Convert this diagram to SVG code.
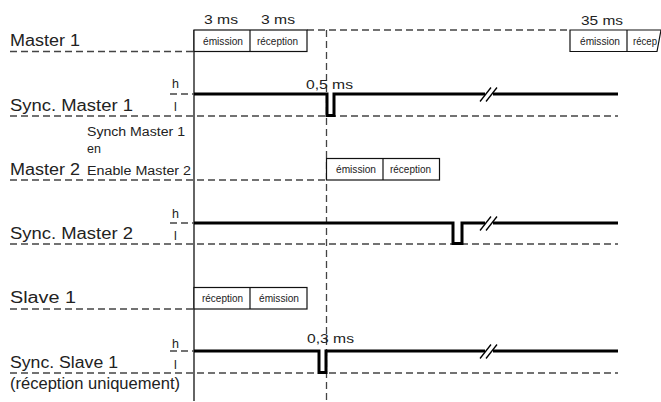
<svg xmlns="http://www.w3.org/2000/svg" width="661" height="402" viewBox="0 0 661 402">
<style>
text{font-family:"Liberation Sans",Arial,sans-serif;fill:#222}
.lbl{font-size:16px}
.sm{font-size:12.5px}
.ms{font-size:13px}
.bx{font-size:11px}
.hl{font-size:12.5px}
.dash{stroke:#444;stroke-width:1.3;stroke-dasharray:7 4;fill:none}
.box{fill:#fff;stroke:#111;stroke-width:1.2}
.sig{stroke:#000;stroke-width:3;fill:none;stroke-linejoin:miter}
.brk{stroke:#000;stroke-width:1.3}
</style>
<g id="guides">
<line x1="194" y1="30" x2="194" y2="401" stroke="#111" stroke-width="1.3"/>
<line class="dash" x1="326.5" y1="30" x2="326.5" y2="401"/>
<line class="dash" x1="307" y1="30" x2="570" y2="30"/>
</g>
<g id="master1">
<text class="lbl" x="10" y="46" textLength="70" lengthAdjust="spacingAndGlyphs">Master 1</text>
<line class="dash" x1="10" y1="51.5" x2="194" y2="51.5"/>
<text class="ms" x="204" y="24" textLength="34" lengthAdjust="spacingAndGlyphs">3 ms</text>
<text class="ms" x="261" y="24" textLength="34" lengthAdjust="spacingAndGlyphs">3 ms</text>
<rect class="box" x="194" y="30" width="113" height="21.5"/>
<line x1="250" y1="30" x2="250" y2="51.5" stroke="#111" stroke-width="1.2"/>
<text class="bx" x="203" y="44.5" textLength="40" lengthAdjust="spacingAndGlyphs">émission</text>
<text class="bx" x="257" y="44.5" textLength="41" lengthAdjust="spacingAndGlyphs">réception</text>
<text class="ms" x="581" y="25" textLength="42" lengthAdjust="spacingAndGlyphs">35 ms</text>
<path class="box" d="M570,30 H661 L657,51.5 H570 Z"/>
<line x1="627" y1="30" x2="627" y2="51.5" stroke="#111" stroke-width="1.2"/>
<text class="bx" x="580" y="44.5" textLength="40" lengthAdjust="spacingAndGlyphs">émission</text>
<text class="bx" x="633" y="44.5" textLength="24" lengthAdjust="spacingAndGlyphs">récep</text>
</g>
<g id="sync-master1">
<text class="lbl" x="10" y="111" textLength="123" lengthAdjust="spacingAndGlyphs">Sync. Master 1</text>
<text class="hl" x="172" y="88">h</text>
<text class="hl" x="174" y="111">l</text>
<line class="dash" x1="170" y1="94" x2="194" y2="94" stroke-dasharray="5 4"/>
<line class="dash" x1="10" y1="116" x2="618" y2="116"/>
<text class="ms" x="306" y="89" textLength="47" lengthAdjust="spacingAndGlyphs">0,5 ms</text>
<path class="sig" d="M194,94 H327 V115.5 H334 V94 H485"/>
<line class="sig" x1="493" y1="94" x2="618" y2="94"/>
<line class="brk" x1="480" y1="101.5" x2="491" y2="87.5"/>
<line class="brk" x1="486" y1="101.5" x2="497" y2="87.5"/>
</g>
<g id="master2">
<text class="sm" x="87" y="136" textLength="98" lengthAdjust="spacingAndGlyphs">Synch Master 1</text>
<text class="sm" x="87" y="153">en</text>
<text class="sm" x="87" y="175" textLength="104" lengthAdjust="spacingAndGlyphs">Enable Master 2</text>
<text class="lbl" x="10" y="175" textLength="70" lengthAdjust="spacingAndGlyphs">Master 2</text>
<line class="dash" x1="10" y1="180" x2="326" y2="180"/>
<rect class="box" x="326.5" y="158.5" width="113" height="21.5"/>
<line x1="383" y1="158.5" x2="383" y2="180" stroke="#111" stroke-width="1.2"/>
<text class="bx" x="336" y="173" textLength="40" lengthAdjust="spacingAndGlyphs">émission</text>
<text class="bx" x="390" y="173" textLength="41" lengthAdjust="spacingAndGlyphs">réception</text>
</g>
<g id="sync-master2">
<text class="lbl" x="10" y="239" textLength="123" lengthAdjust="spacingAndGlyphs">Sync. Master 2</text>
<text class="hl" x="172" y="218">h</text>
<text class="hl" x="174" y="240">l</text>
<line class="dash" x1="170" y1="223" x2="194" y2="223" stroke-dasharray="5 4"/>
<line class="dash" x1="10" y1="244" x2="618" y2="244"/>
<path class="sig" d="M194,223 H453 V243.5 H462 V223 H485"/>
<line class="sig" x1="493" y1="223" x2="618" y2="223"/>
<line class="brk" x1="480" y1="230.5" x2="491" y2="216.5"/>
<line class="brk" x1="486" y1="230.5" x2="497" y2="216.5"/>
</g>
<g id="slave1">
<text class="lbl" x="10" y="303" textLength="66" lengthAdjust="spacingAndGlyphs">Slave 1</text>
<line class="dash" x1="10" y1="309" x2="194" y2="309"/>
<rect class="box" x="194" y="287.5" width="113" height="21.5"/>
<line x1="250" y1="287.5" x2="250" y2="309" stroke="#111" stroke-width="1.2"/>
<text class="bx" x="202" y="302" textLength="41" lengthAdjust="spacingAndGlyphs">réception</text>
<text class="bx" x="259" y="302" textLength="40" lengthAdjust="spacingAndGlyphs">émission</text>
</g>
<g id="sync-slave1">
<text class="lbl" x="10" y="368" textLength="108" lengthAdjust="spacingAndGlyphs">Sync. Slave 1</text>
<text class="lbl" x="10" y="389" textLength="170" lengthAdjust="spacingAndGlyphs">(réception uniquement)</text>
<text class="hl" x="172" y="348">h</text>
<text class="hl" x="174" y="369">l</text>
<line class="dash" x1="170" y1="351" x2="194" y2="351" stroke-dasharray="5 4"/>
<line class="dash" x1="10" y1="373" x2="618" y2="373"/>
<text class="ms" x="307" y="343" textLength="47" lengthAdjust="spacingAndGlyphs">0,3 ms</text>
<path class="sig" d="M194,351 H319 V372.5 H326 V351 H485"/>
<line class="sig" x1="493" y1="351" x2="618" y2="351"/>
<line class="brk" x1="480" y1="358.5" x2="491" y2="344.5"/>
<line class="brk" x1="486" y1="358.5" x2="497" y2="344.5"/>
</g>
</svg>
